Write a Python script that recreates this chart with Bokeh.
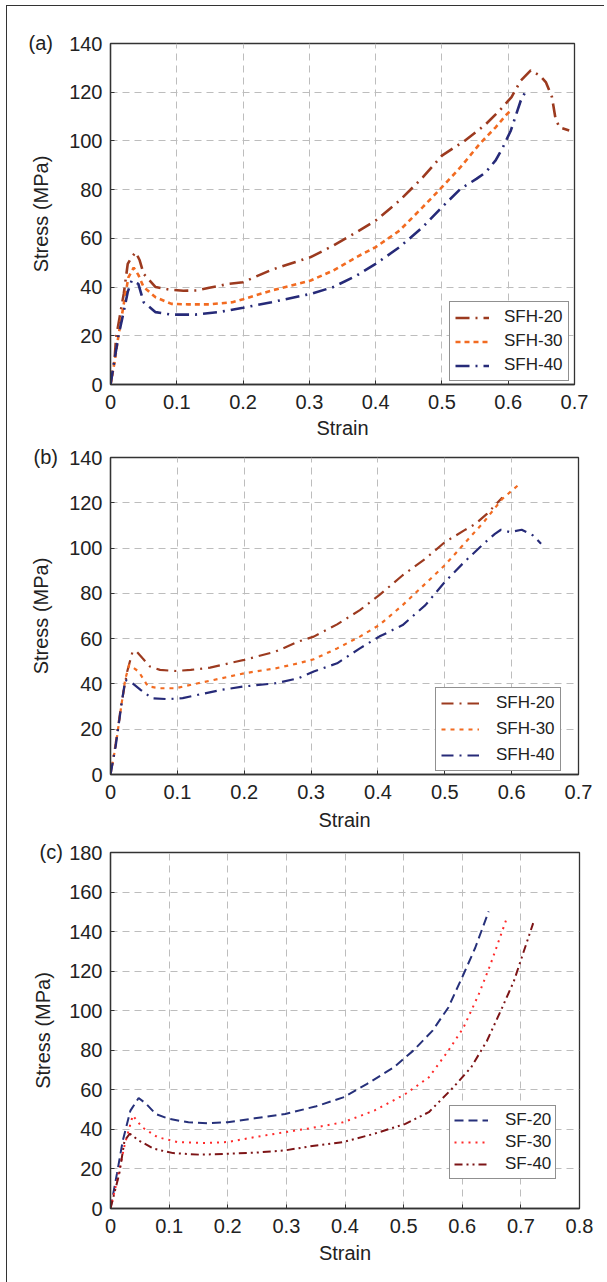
from bokeh.plotting import figure
from bokeh.layouts import column
from bokeh.models import Range1d, FixedTicker
from bokeh.embed import file_html
from bokeh.resources import INLINE

# ---------------- data ----------------
# panel (a)
a_x_ticks = [0, 0.1, 0.2, 0.3, 0.4, 0.5, 0.6, 0.7]
a_x_labels = ["0", "0.1", "0.2", "0.3", "0.4", "0.5", "0.6", "0.7"]
a_y_ticks = [0, 20, 40, 60, 80, 100, 120, 140]
a_y_labels = ["0", "20", "40", "60", "80", "100", "120", "140"]

a_sfh20_strain = [0, 0.006, 0.0085, 0.02, 0.026, 0.032, 0.038, 0.044, 0.05, 0.068, 0.088, 0.11, 0.13, 0.149,
                  0.178, 0.2, 0.243, 0.278, 0.302, 0.336, 0.371, 0.4, 0.436, 0.471, 0.5, 0.534, 0.564, 0.587,
                  0.605, 0.619, 0.634, 0.648, 0.657, 0.666, 0.671, 0.677, 0.692]
a_sfh20_stress = [0, 9.9, 19.4, 37.2, 49.5, 52.3, 54.3, 51, 45.4, 40, 39, 38.5, 38.6, 39.7,
                  41.3, 42, 47.1, 50.2, 52.3, 57, 62.5, 67.3, 75.5, 85, 94, 100, 106.3, 112.5,
                  118, 124.8, 129, 126.8, 124, 118, 109.7, 105.6, 104.3]
a_sfh30_strain = [0, 0.006, 0.012, 0.02, 0.027, 0.035, 0.042, 0.05, 0.068, 0.092, 0.117, 0.149, 0.184, 0.2,
                  0.243, 0.302, 0.336, 0.371, 0.4, 0.436, 0.471, 0.5, 0.528, 0.557, 0.581, 0.598, 0.604]
a_sfh30_stress = [0, 9, 20, 33, 44, 48, 45, 40, 35.8, 33.1, 32.9, 32.9, 33.8, 35,
                  38.6, 42.7, 46.8, 52.3, 56.4, 63.2, 72.8, 81, 89.2, 98.8, 105.6, 111, 112.5]
a_sfh40_strain = [0, 0.006, 0.012, 0.02, 0.026, 0.032, 0.042, 0.05, 0.068, 0.092, 0.128, 0.163, 0.2, 0.243,
                  0.302, 0.336, 0.371, 0.4, 0.436, 0.471, 0.5, 0.528, 0.552, 0.566, 0.581, 0.592, 0.604,
                  0.619, 0.627]
a_sfh40_stress = [0, 10, 20, 30, 38, 42.7, 41.3, 33.8, 29.7, 28.7, 28.7, 29.7, 31.5, 33.8,
                  37.2, 40, 44.7, 49.5, 56.4, 64.6, 72.8, 80.3, 84.4, 87.1, 92, 97.4, 104.3,
                  116.6, 120.7]

# panel (b)
b_x_ticks = [0, 0.1, 0.2, 0.3, 0.4, 0.5, 0.6, 0.7]
b_x_labels = ["0", "0.1", "0.2", "0.3", "0.4", "0.5", "0.6", "0.7"]
b_y_ticks = [0, 20, 40, 60, 80, 100, 120, 140]
b_y_labels = ["0", "20", "40", "60", "80", "100", "120", "140"]

b_sfh20_strain = [0, 0.0075, 0.016, 0.025, 0.033, 0.039, 0.048, 0.059, 0.074, 0.097, 0.12, 0.149, 0.189,
                  0.2, 0.247, 0.281, 0.304, 0.339, 0.373, 0.402, 0.437, 0.471, 0.5, 0.529, 0.546, 0.563,
                  0.584, 0.586]
b_sfh20_stress = [0, 13.2, 30.8, 45.5, 54.3, 54.3, 51.3, 47.7, 46.2, 45.7, 46.2, 47.2, 49.9,
                  50.6, 54.3, 58.7, 60.9, 66.3, 72.6, 79.2, 88, 95.3, 102.6, 107.8, 110.7, 115.1,
                  121.7, 122.4]
b_sfh30_strain = [0, 0.008, 0.016, 0.022, 0.028, 0.042, 0.056, 0.074, 0.097, 0.131, 0.166, 0.2, 0.247,
                  0.281, 0.304, 0.339, 0.373, 0.402, 0.437, 0.471, 0.5, 0.529, 0.558, 0.586, 0.609]
b_sfh30_stress = [0, 13, 30, 42, 48.4, 45.5, 38.9, 38.1, 38.1, 40.3, 42.5, 44.7, 46.9,
                  49.1, 50.9, 55.7, 60.9, 66, 74.8, 84.3, 92.4, 101.9, 111.4, 121.7, 127.6]
b_sfh40_strain = [0, 0.008, 0.016, 0.022, 0.033, 0.045, 0.062, 0.085, 0.108, 0.131, 0.166, 0.2, 0.247,
                  0.281, 0.304, 0.339, 0.373, 0.402, 0.437, 0.471, 0.5, 0.529, 0.558, 0.575, 0.584,
                  0.598, 0.615, 0.632, 0.644]
b_sfh40_stress = [0, 13, 30, 41.8, 40.3, 37.4, 33.7, 33.3, 33.7, 35.2, 37.4, 38.9, 40.3,
                  42.5, 45.5, 49.1, 55.7, 60.9, 66, 74.8, 85, 93.8, 101.9, 106.3, 108.1,
                  107, 108.1, 105.6, 101.9]

# panel (c)
c_x_ticks = [0, 0.1, 0.2, 0.3, 0.4, 0.5, 0.6, 0.7, 0.8]
c_x_labels = ["0", "0.1", "0.2", "0.3", "0.4", "0.5", "0.6", "0.7", "0.8"]
c_y_ticks = [0, 20, 40, 60, 80, 100, 120, 140, 160, 180]
c_y_labels = ["0", "20", "40", "60", "80", "100", "120", "140", "160", "180"]

c_sf20_strain = [0, 0.011, 0.021, 0.034, 0.048, 0.061, 0.077, 0.1, 0.133, 0.166, 0.2, 0.246, 0.298,
                 0.351, 0.397, 0.437, 0.483, 0.516, 0.549, 0.576, 0.602, 0.622, 0.645]
c_sf20_stress = [0, 17.6, 34.4, 49.5, 55.9, 52.9, 47.8, 45.3, 43.6, 43.1, 43.6, 45.6, 47.8,
                 51.7, 56.2, 62.9, 71.3, 79.7, 89.8, 101.5, 118.3, 131.7, 150.2]
c_sf30_strain = [0, 0.012, 0.024, 0.038, 0.054, 0.08, 0.114, 0.16, 0.2, 0.246, 0.298, 0.351, 0.397,
                 0.45, 0.503, 0.543, 0.576, 0.602, 0.628, 0.648, 0.675]
c_sf30_stress = [0, 15, 32, 47, 41.1, 36.1, 33.6, 33.1, 33.6, 36.1, 38.6, 41.1, 43.6,
                 49.5, 57.9, 66.3, 79.7, 91.4, 108.2, 123.3, 146]
c_sf40_strain = [0, 0.015, 0.024, 0.033, 0.048, 0.074, 0.107, 0.153, 0.2, 0.246, 0.298, 0.351, 0.397,
                 0.45, 0.503, 0.543, 0.582, 0.615, 0.642, 0.668, 0.688, 0.721]
c_sf40_stress = [0, 17.6, 34.4, 37.8, 34.4, 30.2, 28, 27.2, 27.7, 28.2, 29.4, 31.9, 33.6,
                 37.8, 42.8, 48.7, 60.4, 71.3, 84.7, 101.5, 114.9, 144.3]

FONT = "Liberation Sans"
TXT = "#222222"


def make_panel(tag, tag_offset, xr, yr, xt, xl, yt, yl, frame, borders, series, legend_cfg, label_standoffs):
    fl, fr, ftop, fbot = borders
    fw, fh = frame
    p = figure(frame_width=fw, frame_height=fh, output_backend="svg", toolbar_location=None,
               x_range=Range1d(*xr), y_range=Range1d(*yr),
               min_border_left=fl, min_border_right=fr, min_border_top=ftop, min_border_bottom=fbot,
               background_fill_color="white", border_fill_color=None)
    p.outline_line_color = "#333333"
    p.outline_line_width = 1.3
    p.outline_line_alpha = 1.0

    p.title.text = tag
    p.title.align = "left"
    p.title.offset = tag_offset
    p.title.standoff = -20
    p.title.vertical_align = "bottom"
    p.title.text_font = FONT
    p.title.text_font_size = "20px"
    p.title.text_font_style = "normal"
    p.title.text_color = TXT

    p.xaxis.ticker = FixedTicker(ticks=xt)
    p.yaxis.ticker = FixedTicker(ticks=yt)
    p.xaxis.major_label_overrides = {t: s for t, s in zip(xt, xl)}
    p.yaxis.major_label_overrides = {t: s for t, s in zip(yt, yl)}
    for ax in (p.xaxis[0], p.yaxis[0]):
        ax.axis_line_color = "#333333"
        ax.axis_line_width = 1.3
        ax.major_tick_in = 4
        ax.major_tick_out = 0
        ax.major_tick_line_color = "#333333"
        ax.minor_tick_line_color = None
        ax.major_label_text_font = FONT
        ax.major_label_text_font_size = "20px"
        ax.major_label_text_color = TXT
        ax.axis_label_text_font = FONT
        ax.axis_label_text_font_size = "20px"
        ax.axis_label_text_font_style = "normal"
        ax.axis_label_text_color = TXT
    p.xaxis.major_label_standoff = 10
    p.yaxis.major_label_standoff = 8
    p.xaxis.axis_label = "Strain"
    p.yaxis.axis_label = "Stress (MPa)"
    p.xaxis.axis_label_standoff = label_standoffs[0]
    p.yaxis.axis_label_standoff = label_standoffs[1]

    p.xgrid.ticker = FixedTicker(ticks=xt)
    p.ygrid.ticker = FixedTicker(ticks=yt)
    for g in (p.xgrid[0], p.ygrid[0]):
        g.grid_line_color = "#BDBDBD"
        g.grid_line_dash = "7 5"
        g.grid_line_width = 1

    for xs, ys, name, color, dash, width in series:
        p.line(xs, ys, line_color=color, line_dash=dash, line_width=width, legend_label=name)

    lg = p.legend[0]
    loc, pad, gw, stand, lh, sp, fs = legend_cfg
    lg.location = loc
    lg.padding = pad
    lg.margin = 0
    lg.glyph_width = gw
    lg.glyph_height = lh
    lg.label_height = lh
    lg.label_standoff = stand
    lg.spacing = sp
    lg.label_text_font = FONT
    lg.label_text_font_size = fs
    lg.label_text_color = TXT
    lg.border_line_color = "#222222"
    lg.border_line_width = 1.2
    lg.background_fill_color = "white"
    lg.background_fill_alpha = 1.0
    return p


pa = make_panel("(a)", -82, (0, 0.7), (0, 140), a_x_ticks, a_x_labels, a_y_ticks, a_y_labels,
                (464, 341), (103, 30, 37, 59),
                [(a_sfh20_strain, a_sfh20_stress, "SFH-20", "#9C3A1F", "14 6 2 6", 2.6),
                 (a_sfh30_strain, a_sfh30_stress, "SFH-30", "#F26B21", "5 4", 2.6),
                 (a_sfh40_strain, a_sfh40_stress, "SFH-40", "#262A78", "14 6 2 6", 2.6)],
                ((339, 3), 5, 34, 15, 19, 4, "17px"), (5, 14))

pb = make_panel("(b)", -77, (0, 0.7), (0, 140), b_x_ticks, b_x_labels, b_y_ticks, b_y_labels,
                (468, 317), (100, 29, 14, 62),
                [(b_sfh20_strain, b_sfh20_stress, "SFH-20", "#9C3A1F", "12 6 2 6", 2.2),
                 (b_sfh30_strain, b_sfh30_stress, "SFH-30", "#F26B21", "4 5", 2.2),
                 (b_sfh40_strain, b_sfh40_stress, "SFH-40", "#262A78", "12 6 2 6", 2.2)],
                ((325, 3), 5, 38, 17, 20, 6, "17px"), (7, 14))

pc = make_panel("(c)", -71, (0, 0.8), (0, 180), c_x_ticks, c_x_labels, c_y_ticks, c_y_labels,
                (469, 356), (97, 31, 16, 76),
                [(c_sf20_strain, c_sf20_stress, "SF-20", "#26307A", "9 5", 2.0),
                 (c_sf30_strain, c_sf30_stress, "SF-30", "#FF2A2A", "2 5", 2.0),
                 (c_sf40_strain, c_sf40_stress, "SF-40", "#7D1416", "8 4 2 4 2 4", 2.0)],
                ((339, 29), 4, 34, 17, 18, 2, "17px"), (6, 12))

layout = column(pa, pb, pc, spacing=0,
                styles={"border-left": "1px solid #333333", "border-top": "1px solid #333333",
                        "margin-left": "6px", "margin-top": "5px"})

open("out.html", "w").write(file_html(layout, INLINE))
